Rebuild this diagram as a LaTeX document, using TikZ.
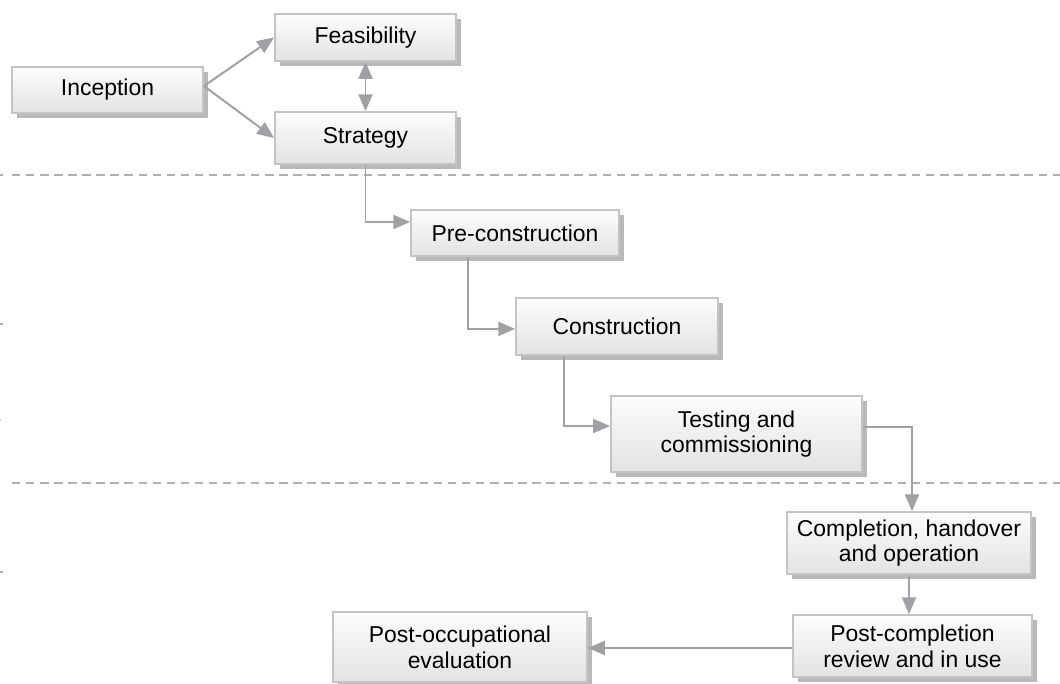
\documentclass[tikz,border=0pt]{standalone}
\usepackage{fontspec}
\setmainfont{Liberation Sans}
\usepackage{xcolor}
\usepackage{tikz}
\usetikzlibrary{arrows.meta,shadows,calc}

\definecolor{linegray}{RGB}{160,160,165}
\definecolor{rimgray}{RGB}{196,196,196}
\definecolor{dashgray}{RGB}{175,175,175}

\begin{document}
\begin{tikzpicture}[
  x=0.025cm, y=-0.025cm,
  every node/.style={font=\fontsize{16.3}{18.3}\selectfont, align=center},
  stage/.style={draw=rimgray, line width=1.2pt, top color=gray!2, bottom color=gray!22,
    inner sep=2pt, drop shadow={shadow xshift=0.125cm, shadow yshift=-0.125cm, fill=gray!55, opacity=1}},
  tip/.style={Triangle[length=12pt, width=10pt]},
  flow/.style={draw=linegray, line width=1.4pt, -{Triangle[length=12pt, width=10pt]}},
  phase/.style={draw=dashgray, line width=0.8pt, dash pattern=on 6pt off 4pt},
]
\useasboundingbox (0,0) rectangle (1060,684);
% phase separators
\draw[phase] (12,175) -- (1060,175);
\draw[phase] (12,483) -- (1060,483);
\draw[dashgray, line width=0.8pt] (0,175) -- (3,175);
\draw[dashgray, line width=0.8pt] (0,324) -- (3,324);
\draw[dashgray!50, line width=0.8pt] (0,420) -- (1,420);
\draw[dashgray, line width=0.8pt] (0,572) -- (3,572);
% stages
\node[stage, minimum width=4.78cm, minimum height=1.15cm] (incep) at (107.5,90) {Inception};
\node[stage, minimum width=4.53cm, minimum height=1.18cm] (feas) at (365.5,37.5) {Feasibility};
\node[stage, minimum width=4.53cm, minimum height=1.3cm] (strat) at (365.5,138) {Strategy};
\node[stage, minimum width=5.2cm, minimum height=1.15cm] (precon) at (515,233) {Pre-construction};
\node[stage, minimum width=5.05cm, minimum height=1.43cm] (con) at (617,326.5) {Construction};
\node[stage, minimum width=6.28cm, minimum height=1.9cm] (test) at (736.5,434) {Testing and\\commissioning};
\node[stage, minimum width=6.1cm, minimum height=1.55cm] (compl) at (909,543) {Completion, handover\\and operation};
\node[stage, minimum width=5.98cm, minimum height=1.55cm] (postc) at (912.5,646) {Post-completion\\review and in use};
\node[stage, minimum width=6.35cm, minimum height=1.75cm] (posto) at (460,647) {Post-occupational\\evaluation};
% connectors
\draw[flow] ([yshift=0.1cm]incep.east) -- (feas.west);
\draw[flow] ([yshift=0.1cm]incep.east) -- (strat.west);
\draw[flow, {Triangle[length=12pt, width=10pt]}-{Triangle[length=12pt, width=10pt]}] (feas.south) -- (strat.north);
\draw[flow] (strat.south) |- ([yshift=0.275cm]precon.west);
\draw[flow] ([xshift=-1.175cm]precon.south) |- ([yshift=-0.06cm]con.west);
\draw[flow] ([xshift=-1.325cm]con.south) |- ([yshift=0.2cm]test.west);
\draw[flow] ([yshift=0.175cm]test.east) -| ([xshift=0.075cm]compl.north);
\draw[flow] (compl.south) -- (compl.south |- postc.north);
\draw[flow] ([yshift=-0.05cm]postc.west) -- ([yshift=-0.05cm]postc.west -| posto.east);
\end{tikzpicture}
\end{document}
